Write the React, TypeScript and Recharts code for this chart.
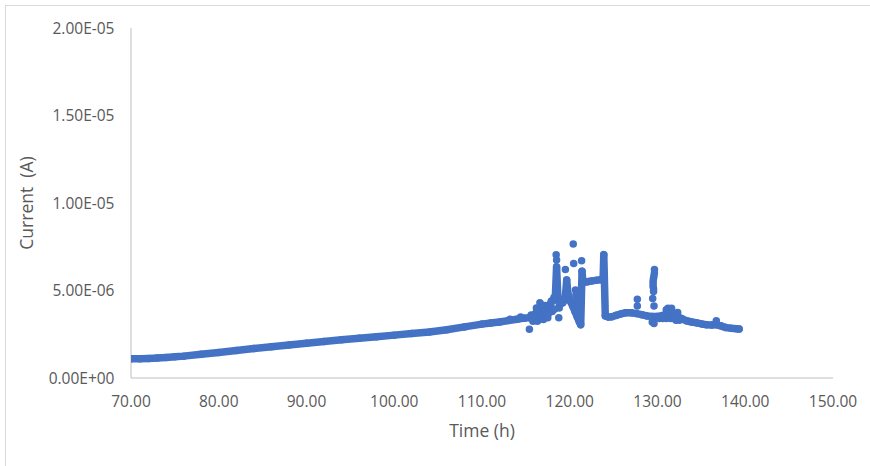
import React from 'react'

import {
  CartesianGrid,
  Label,
  Scatter,
  ScatterChart,
  XAxis,
  YAxis,
} from 'recharts'

// Main trace (time in h, current in µA), drawn as connected dots
const traceTime = [
  70.0, 71.0, 72.0, 73.0, 74.0, 75.0, 76.0, 78.0, 80.0, 82.0, 84.0, 86.0,
  88.0, 90.0, 92.0, 94.0, 96.0, 98.0, 100.0, 102.0, 104.0, 106.0, 108.0,
  110.0, 111.0, 112.0, 113.0, 114.0, 114.8, 115.4, 115.8, 116.2, 116.6, 117.0,
  117.4, 117.8, 118.1, 118.35, 118.5, 118.65, 118.85, 119.2, 119.5, 119.65,
  119.8, 120.05, 120.35, 120.6, 120.85, 121.1, 121.25, 121.4, 121.5, 122.0,
  122.5, 123.0, 123.5, 123.8, 123.88, 124.05, 124.4, 124.8, 125.3, 125.8,
  126.4, 127.0, 127.6, 128.2, 128.8, 129.4, 129.9, 130.4, 130.9, 131.3, 131.8,
  132.3, 132.8, 133.3, 133.9, 134.5, 135.1, 135.6, 136.2, 136.7, 137.2, 137.8,
  138.4, 139.0, 139.3,
]
const traceCurrentUA = [
  1.1, 1.1, 1.12, 1.14, 1.17, 1.21, 1.25, 1.36, 1.46, 1.57, 1.68, 1.79, 1.89,
  1.98, 2.08, 2.18, 2.27, 2.36, 2.45, 2.54, 2.63, 2.76, 2.92, 3.08, 3.14, 3.2,
  3.28, 3.36, 3.42, 3.45, 3.55, 3.75, 3.95, 3.85, 4.05, 4.25, 4.45, 4.55, 6.35,
  4.6, 4.2, 4.3, 4.6, 5.6, 4.8, 4.4, 4.1, 3.8, 3.5, 3.2, 3.05, 6.1, 5.45, 5.5,
  5.55, 5.58, 5.62, 5.65, 7.05, 3.55, 3.48, 3.5, 3.58, 3.66, 3.73, 3.73, 3.68,
  3.62, 3.55, 3.52, 3.52, 3.55, 3.62, 3.78, 3.72, 3.52, 3.38, 3.27, 3.2, 3.15,
  3.08, 3.04, 3.03, 3.05, 2.98, 2.88, 2.84, 2.81, 2.8,
]

// Scattered readings around the spikes
const pointTime = [
  115.4, 115.9, 116.4, 116.6, 116.9, 117.2, 117.6, 118.0, 118.45, 118.5,
  118.75, 118.8, 119.5, 120.4, 120.45, 121.35, 120.65, 120.7, 120.75, 120.8,
  120.85, 127.7, 127.7, 129.65, 129.65, 129.6, 129.55, 129.5, 129.5, 129.5,
  129.55, 129.55, 129.45, 129.6, 129.4, 129.6, 131.2, 131.6, 131.5, 132.1,
  136.7, 115.6, 115.8, 116.0, 116.2, 116.3, 116.5, 116.7, 116.8, 117.0, 117.1,
  117.3, 117.5, 117.7, 117.9, 118.1, 118.2, 118.3, 130.2, 130.6, 131.0, 131.0,
  131.4, 131.9, 132.3, 132.5, 113.2, 114.4,
]
const pointCurrentUA = [
  2.78, 3.35, 3.3, 4.3, 3.4, 4.15, 3.7, 3.8, 7.05, 6.75, 3.45, 4.0, 6.2, 7.66,
  6.55, 6.7, 5.03, 4.75, 4.45, 4.15, 3.85, 4.5, 4.11, 6.2, 6.02, 5.85, 5.7,
  5.55, 5.4, 5.25, 5.1, 4.95, 4.55, 4.11, 3.2, 3.12, 3.98, 3.98, 3.4, 3.3,
  3.27, 3.6, 3.25, 3.5, 4.0, 3.25, 3.65, 4.2, 3.6, 3.35, 4.0, 3.6, 3.45, 4.0,
  4.4, 3.9, 4.6, 3.95, 3.4, 3.4, 3.4, 3.9, 3.55, 3.5, 3.75, 3.3, 3.36, 3.48,
]

const xTicks = [70, 80, 90, 100, 110, 120, 130, 140, 150]
const yTicks = [0, 5e-6, 1e-5, 1.5e-5, 2e-5]

const traceData = traceTime.map((t, i) => ({ t, a: traceCurrentUA[i] * 1e-6 }))
const pointData = pointTime.map((t, i) => ({ t, a: pointCurrentUA[i] * 1e-6 }))

const BLUE = '#4472C4'
const TEXT = '#595959'
const AXIS = '#BFBFBF'
const FONT = '"Open Sans", "Noto Sans", sans-serif'

// Excel style scientific label, e.g. 2.00E-05
const formatSci = (v: number): string => {
  const [m, e] = v.toExponential(2).split('e')
  const sign = e.startsWith('-') ? '-' : '+'
  const digits = e.replace(/[+-]/, '').padStart(2, '0')
  return `${m}E${sign}${digits}`
}

const Dot = (props: any) => (
  <circle cx={props.cx} cy={props.cy} r={3.75} fill={BLUE} />
)

export default function App() {
  return (
    <div
      style={{
        position: 'absolute',
        left: 0,
        top: 0,
        width: 870,
        height: 466,
        overflow: 'hidden',
        background: '#fff',
        fontFamily: FONT,
      }}
    >
      <div
        style={{
          position: 'absolute',
          left: 5,
          top: 5,
          width: 900,
          height: 500,
          border: '1px solid #D9D9D9',
        }}
      />
      <div style={{ position: 'absolute', left: 0, top: 0 }}>
        <ScatterChart
          width={870}
          height={466}
          margin={{ top: 28, right: 37, bottom: 0, left: 0 }}
        >
          <CartesianGrid horizontal={false} vertical={false} />
          <XAxis
            type="number"
            dataKey="t"
            domain={[70, 150]}
            ticks={xTicks}
            allowDataOverflow
            height={88}
            tickFormatter={(v) => v.toFixed(2)}
            tick={{ fill: TEXT, fontSize: 15.5, fontFamily: FONT }}
            axisLine={{ stroke: AXIS }}
            tickLine={false}
            tickSize={0}
            tickMargin={18}
          >
            <Label
              value="Time (h)"
              position="insideBottom"
              offset={29}
              style={{ fill: TEXT, fontSize: 17.5, fontFamily: FONT }}
            />
          </XAxis>
          <YAxis
            type="number"
            dataKey="a"
            domain={[0, 2e-5]}
            ticks={yTicks}
            allowDataOverflow
            width={131}
            tickFormatter={formatSci}
            tick={{ fill: TEXT, fontSize: 15.5, fontFamily: FONT }}
            axisLine={{ stroke: AXIS }}
            tickLine={false}
            tickSize={0}
            tickMargin={16.5}
          >
            <Label
              value={'Current\u00A0 (A)'}
              position="insideLeft"
              angle={-90}
              offset={27}
              style={{
                textAnchor: 'middle',
                fill: TEXT,
                fontSize: 17.5,
                fontFamily: FONT,
              }}
            />
          </YAxis>
          <Scatter
            data={traceData}
            fill={BLUE}
            shape={Dot}
            line={{
              stroke: BLUE,
              strokeWidth: 7.5,
              strokeLinejoin: 'round',
              strokeLinecap: 'round',
            }}
            lineType="joint"
            isAnimationActive={false}
          />
          <Scatter
            data={pointData}
            fill={BLUE}
            shape={Dot}
            isAnimationActive={false}
          />
        </ScatterChart>
      </div>
    </div>
  )
}
